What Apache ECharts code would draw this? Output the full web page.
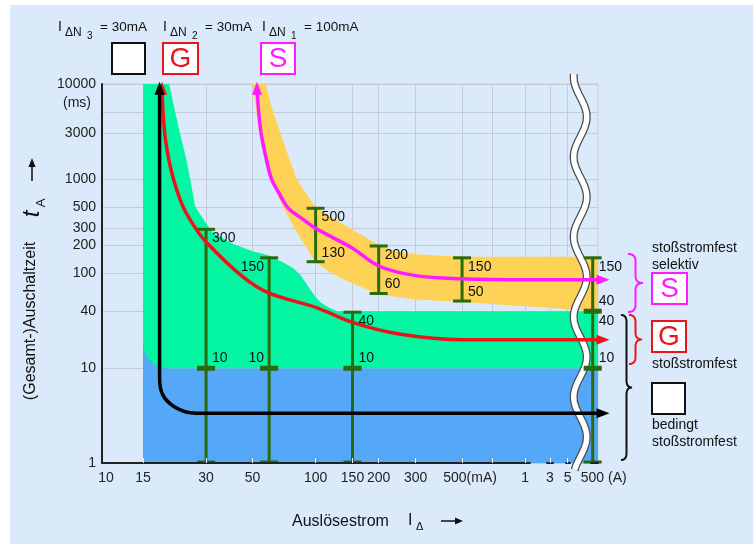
<!DOCTYPE html>
<html>
<head>
<meta charset="utf-8">
<script src="https://cdn.jsdelivr.net/npm/echarts@6/dist/echarts.min.js"></script>
<style>
  html, body { margin: 0; padding: 0; background: #fff; }
  #chart { width: 753px; height: 544px; }
</style>
</head>
<body>
<div id="chart"></div>
<script>
// ---------- data: current in mA, time in ms ----------
const xTickValues = [15, 30, 50, 100, 150, 200, 300, 500, 700, 1000, 3000, 5000];
const xLabelValues = [10, 15, 30, 50, 100, 150, 200, 300, 500, 1000, 3000, 5000, 500000];
const yTickValues = [1, 10, 40, 100, 200, 300, 500, 1000, 3000, 5000, 10000];
const yLabelValues = [1, 10, 40, 100, 200, 300, 500, 1000, 3000, 10000];

// blue band (not shock-proof region, 1..10 ms)
const blueX = [15, 15, 15.3, 15.3, 20, 20, 530000, 530000];
const blueY = [1, 10000, 10000, 20, 20, 10, 10, 1];

// green band (G)
const gTopX = [15, 20, 21.2, 22.5, 24, 25.2, 26.6, 30, 32.4, 40.5, 50, 60, 70, 78, 85, 91, 98, 105, 115, 127, 530000];
const gTopY = [10000, 10000, 5500, 3050, 1700, 1000, 510, 338, 270, 205, 172, 155, 131, 114, 95, 76, 60, 50, 44, 40, 40];
const gBotX = [530000, 19.3, 16.9, 15.5, 15];
const gBotY = [10, 10, 11, 13.5, 17.9];

// yellow band (S)
const sUpX = [57.7, 62, 67, 74, 81.5, 90, 100, 150, 200, 245, 300, 500, 530000];
const sUpY = [10000, 5500, 3330, 1750, 980, 700, 500, 290, 200, 170, 160, 150, 150];
const sLowX = [50, 53.5, 57, 61.3, 68, 77, 88, 100, 115, 134, 165, 200, 300, 500, 530000];
const sLowY = [10000, 3330, 1800, 975, 570, 338, 205, 131, 106, 88, 72, 60, 53, 50, 40];

// characteristic curves
const sCurveX = [52.5, 54.5, 57.5, 61.5, 67, 74, 86, 100, 150, 200, 300, 500, 1000, 560000];
const sCurveY = [9000, 3400, 1800, 1000, 700, 490, 380, 300, 185, 120, 95, 88, 86, 86];
const gCurveX = [18.5, 18.7, 19.2, 20.5, 23, 26, 30, 45, 60, 100, 150, 250, 500, 1000, 560000];
const gCurveY = [9000, 5000, 2600, 1200, 540, 330, 215, 92, 62, 44, 30.5, 23, 20, 20, 20];
const bCurveX = [18, 18, 18.6, 20.9, 25.2, 30, 560000];
const bCurveY = [9000, 7.9, 5.3, 4.0, 3.4, 3.35, 3.35];

// limit bars
const baseBarX = [30, 60, 150, 500000];
const baseBarLow = [1, 1, 1, 1];
const baseBarHigh = [10, 10, 10, 10];
const gBarX = [30, 60, 150, 500000];
const gBarLow = [10, 10, 10, 10];
const gBarHigh = [300, 150, 40, 40];
const sBarX = [100, 200, 500, 500000];
const sBarLow = [130, 60, 50, 40];
const sBarHigh = [500, 200, 150, 150];

// ---------- layout / style ----------
const FONT = '"Liberation Sans", Arial, sans-serif';
const BLUE = '#54a8f7', GREEN = '#05f6a2', YELLOW = '#fdd257';
const BAR = '#2a6b0e', RED = '#e8161b', MAGENTA = '#ff1aff';
const GRIDLINE = '#c6cbd3', PANEL = '#daeafb';
const X_MIN = 9.56, X_MAX = 530000;
const xBreaks = [[1050, 2900, '3.5%'], [3100, 4900, '2.6%'], [5100, 490000, '4.3%']];

const chart = echarts.init(document.getElementById('chart'));

function pairs(xs, ys) { return xs.map((x, i) => [x, ys[i]]); }

function polyRenderer(xs, ys, color) {
  return function (params, api) {
    if (params.dataIndex !== 0) return;
    const pts = xs.map((x, i) => api.coord([x, ys[i]]));
    return { type: 'polygon', shape: { points: pts }, style: { fill: color } };
  };
}

function barRenderer(withLabels, leftAt) {
  return function (params, api) {
    const x = api.value(0), lo = api.value(1), hi = api.value(2);
    const a = api.coord([x, lo]), b = api.coord([x, hi]);
    const w = 9;
    const st = { stroke: BAR, lineWidth: 3 };
    const kids = [
      { type: 'line', shape: { x1: a[0], y1: a[1], x2: b[0], y2: b[1] }, style: st },
      { type: 'line', shape: { x1: b[0] - w, y1: b[1] + 1, x2: b[0] + w, y2: b[1] + 1 }, style: st },
      { type: 'line', shape: { x1: a[0] - w, y1: a[1] - 1, x2: a[0] + w, y2: a[1] - 1 }, style: st }
    ];
    if (withLabels) {
      const left = leftAt.indexOf(x) >= 0;
      const tx = left ? b[0] - 5 : b[0] + 6;
      const al = left ? 'right' : 'left';
      kids.push({ type: 'text', x: tx, y: b[1] + 3, style: { text: String(hi), fill: '#111', font: '14px ' + FONT, textAlign: al, textVerticalAlign: 'top' } });
      kids.push({ type: 'text', x: tx, y: a[1] - 3, style: { text: String(lo), fill: '#111', font: '14px ' + FONT, textAlign: al, textVerticalAlign: 'bottom' } });
    }
    return { type: 'group', children: kids };
  };
}

function curveData(xs, ys) {
  const last = xs.length - 1;
  return xs.map((x, i) => {
    if (i === 0) return { value: [x, ys[i]], symbol: 'triangle', symbolSize: [10, 13], symbolRotate: 0 };
    if (i === last) return { value: [x, ys[i]], symbol: 'triangle', symbolSize: [10, 13], symbolRotate: -90 };
    return { value: [x, ys[i]], symbol: 'none' };
  });
}

function curve(name, xs, ys, color) {
  return {
    type: 'line', name, z: 8, data: curveData(xs, ys), smooth: 0.35, clip: false,
    showSymbol: true, symbol: 'none', silent: true,
    lineStyle: { color, width: 3.5 }, itemStyle: { color }
  };
}

function xAxisCfg(extra) {
  return Object.assign({
    type: 'log', logBase: 10, min: X_MIN, max: X_MAX,
    breaks: xBreaks.map(b => ({ start: b[0], end: b[1], gap: b[2] })),
    breakArea: { show: false }
  }, extra);
}

function xLabel(v) {
  const r = Math.round(v);
  if (r === 500) return '{u|500(mA)}';
  if (r === 500000) return '{a|500 (A)}';
  if (r >= 1000) return String(r / 1000);
  return String(r);
}

const option = {
  animation: false,
  grid: { left: 102, top: 84, right: 155, bottom: 81, show: true, backgroundColor: PANEL, borderColor: GRIDLINE, borderWidth: 1 },
  xAxis: [
    xAxisCfg({
      axisLine: { show: false },
      axisTick: { show: false, customValues: xTickValues },
      splitLine: { show: true, lineStyle: { color: GRIDLINE, width: 1 } },
      axisLabel: {
        customValues: xLabelValues, formatter: xLabel, color: '#222', fontSize: 14, fontFamily: FONT, margin: 8,
        rich: {
          u: { fontSize: 14, fontFamily: FONT, color: '#222', padding: [0, 0, 0, 16] },
          a: { fontSize: 14, fontFamily: FONT, color: '#222', padding: [0, 0, 0, 22] }
        }
      }
    }),
    xAxisCfg({
      position: 'bottom', z: 10,
      axisLine: { show: true, lineStyle: { color: '#222', width: 2 } },
      axisTick: { show: true, inside: true, length: 5, customValues: xTickValues, lineStyle: { color: '#eef4ff', width: 1 } },
      axisLabel: { show: false },
      splitLine: { show: false }
    })
  ],
  yAxis: {
    type: 'log', logBase: 10, min: 1, max: 10000,
    axisLine: { show: true, lineStyle: { color: '#222', width: 2 } },
    axisTick: { show: false, customValues: yTickValues },
    splitLine: { show: true, lineStyle: { color: GRIDLINE, width: 1 } },
    axisLabel: { customValues: yLabelValues, formatter: v => String(Math.round(v)), color: '#222', fontSize: 14, fontFamily: FONT, margin: 6 }
  },
  series: [
    { type: 'custom', name: 'blue', z: 1, silent: true, renderItem: polyRenderer(blueX, blueY, BLUE), data: pairs(blueX, blueY), encode: { x: 0, y: 1 } },
    { type: 'custom', name: 'green', z: 2, silent: true, renderItem: polyRenderer(gTopX.concat(gBotX), gTopY.concat(gBotY), GREEN), data: pairs(gTopX.concat(gBotX), gTopY.concat(gBotY)), encode: { x: 0, y: 1 } },
    { type: 'custom', name: 'yellow', z: 2, silent: true, renderItem: polyRenderer(sUpX.concat(sLowX.slice().reverse()), sUpY.concat(sLowY.slice().reverse()), YELLOW), data: pairs(sUpX, sUpY), encode: { x: 0, y: 1 } },
    { type: 'custom', name: 'base bars', z: 6, silent: true, renderItem: barRenderer(false, []), data: baseBarX.map((x, i) => [x, baseBarLow[i], baseBarHigh[i]]), encode: { x: 0, y: [1, 2] } },
    { type: 'custom', name: 'G bars', z: 6, silent: true, renderItem: barRenderer(true, [60]), data: gBarX.map((x, i) => [x, gBarLow[i], gBarHigh[i]]), encode: { x: 0, y: [1, 2] } },
    { type: 'custom', name: 'S bars', z: 6, silent: true, renderItem: barRenderer(true, []), data: sBarX.map((x, i) => [x, sBarLow[i], sBarHigh[i]]), encode: { x: 0, y: [1, 2] } },
    curve('S', sCurveX, sCurveY, MAGENTA),
    curve('G', gCurveX, gCurveY, RED),
    curve('ohne', bCurveX, bCurveY, '#000')
  ]
};

chart.setOption(option);

// ---------- annotations ----------
function txt(x, y, text, font, color, align, extra) {
  return Object.assign({
    type: 'text', x, y, z: 20, silent: true,
    style: { text, font, fill: color || '#111', textAlign: align || 'left', textVerticalAlign: 'middle' }
  }, extra || {});
}
function box(x, y, w, h, color, letter) {
  const els = [{ type: 'rect', z: 20, silent: true, shape: { x, y, width: w, height: h }, style: { fill: '#fff', stroke: color, lineWidth: 2 } }];
  if (letter) els.push(txt(x + w / 2, y + h / 2 + 1, letter, '28px ' + FONT, color, 'center'));
  return els;
}
// quadratic bezier sampled into points
function quad(p0, c, p1, out) {
  for (let t = 0; t <= 1.0001; t += 0.125) {
    const u = 1 - t;
    out.push([u * u * p0[0] + 2 * u * t * c[0] + t * t * p1[0], u * u * p0[1] + 2 * u * t * c[1] + t * t * p1[1]]);
  }
}
function brace(x, y1, y2, w, color) {
  const m = (y1 + y2) / 2, h = x + w / 2, r = Math.min(7, (y2 - y1) / 4);
  const pts = [];
  quad([x, y1], [h, y1], [h, y1 + r], pts);
  quad([h, m - r], [h, m], [x + w, m], pts);
  quad([x + w, m], [h, m], [h, m + r], pts);
  quad([h, y2 - r], [h, y2], [x, y2], pts);
  return { type: 'polyline', z: 20, silent: true, shape: { points: pts }, style: { fill: null, stroke: color, lineWidth: 2 } };
}
function iLabel(x, sub, rest) {
  return [
    txt(x, 27, 'I', '14px ' + FONT, '#111'),
    txt(x + 7, 32.5, '\u0394N', '12px ' + FONT, '#111'),
    txt(x + 29, 36, sub, '10px ' + FONT, '#111'),
    txt(x + 42, 27, rest, '13.5px ' + FONT, '#111')
  ];
}

const F14 = '14px ' + FONT;
const xa = chart.convertToPixel({ xAxisIndex: 0 }, 5000);
const xb = chart.convertToPixel({ xAxisIndex: 0 }, 500000);
const waveX = (xa + xb) / 2;
const wavePts = [];
for (let y = 74; y <= 470; y += 2) wavePts.push([waveX + 6.5 * Math.sin(2 * Math.PI * (y - 97) / 80), y]);

const graphics = [
  { type: 'rect', z: -100, silent: true, shape: { x: 10, y: 5, width: 743, height: 539 }, style: { fill: PANEL } },
  { type: 'polyline', z: 4, silent: true, shape: { points: wavePts }, style: { stroke: '#4a4a4a', lineWidth: 8, fill: null } },
  { type: 'polyline', z: 4, silent: true, shape: { points: wavePts }, style: { stroke: '#ffffff', lineWidth: 5.5, fill: null } },
  ...iLabel(58, '3', '= 30mA'),
  ...iLabel(163, '2', '= 30mA'),
  ...iLabel(262, '1', '= 100mA'),
  ...box(112, 43, 33, 31, '#111', ''),
  ...box(163, 43, 35, 31, RED, 'G'),
  ...box(261, 43, 34, 31, MAGENTA, 'S'),
  txt(77, 103, '(ms)', F14, '#222', 'center'),
  // right side legend
  txt(652, 248, 'sto\u00dfstromfest', F14),
  txt(652, 265, 'selektiv', F14),
  ...box(652, 273, 35, 31, MAGENTA, 'S'),
  ...box(652, 321, 34, 31, RED, 'G'),
  txt(652, 364, 'sto\u00dfstromfest', F14),
  ...box(652, 383, 33, 31, '#111', ''),
  txt(652, 425, 'bedingt', F14),
  txt(652, 442, 'sto\u00dfstromfest', F14),
  brace(628, 254, 312, 15, MAGENTA),
  brace(629, 315, 364, 13, RED),
  brace(621, 315, 460, 11, '#111'),
  // x axis title
  txt(292, 522, 'Ausl\u00f6sestrom', '16px ' + FONT),
  txt(408, 521, 'I', '16px ' + FONT),
  txt(416, 527, '\u0394', '11px ' + FONT),
  { type: 'line', z: 20, silent: true, shape: { x1: 441, y1: 521, x2: 456, y2: 521 }, style: { stroke: '#111', lineWidth: 1.5 } },
  { type: 'polygon', z: 20, silent: true, shape: { points: [[455, 517.5], [463, 521], [455, 524.5]] }, style: { fill: '#111' } },
  // y axis title
  txt(31, 321, '(Gesamt-)Auschaltzeit', '16px ' + FONT, '#111', 'center', { rotation: Math.PI / 2 }),
  txt(32, 214, 't', 'italic 24px ' + FONT, '#111', 'center', { rotation: Math.PI / 2 }),
  txt(41, 203, 'A', '13px ' + FONT, '#111', 'center', { rotation: Math.PI / 2 }),
  { type: 'line', z: 20, silent: true, shape: { x1: 32, y1: 181, x2: 32, y2: 166 }, style: { stroke: '#111', lineWidth: 1.5 } },
  { type: 'polygon', z: 20, silent: true, shape: { points: [[28.5, 167], [32, 158], [35.5, 167]] }, style: { fill: '#111' } }
];

chart.setOption({ graphic: { elements: graphics } });
</script>
</body>
</html>
